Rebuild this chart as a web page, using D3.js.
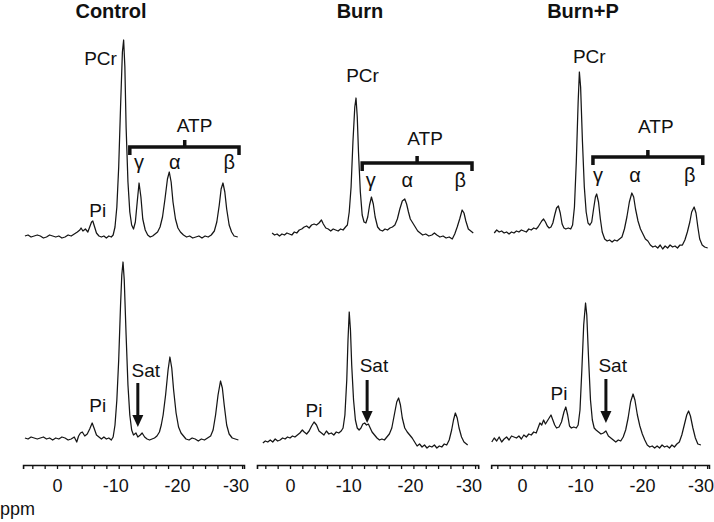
<!DOCTYPE html>
<html><head><meta charset="utf-8">
<script src="https://cdn.jsdelivr.net/npm/d3@7"></script>
<style>
html,body{margin:0;padding:0;background:#fff;}
svg text{font-family:"Liberation Sans",Arial,sans-serif;fill:#111;}
</style></head>
<body><svg id="c" width="714" height="522"></svg>
<script>
// ---------- data ----------
const panelTitles = ["Control", "Burn", "Burn+P"];
const tickValues = [4,2,0,-2,-4,-6,-8,-10,-12,-14,-16,-18,-20,-22,-24,-26,-28,-30];
const axisUnit = "ppm";

// spectra: [ppm, intensity (a.u.)]
const controlTop = [[5.2,1],[4.7,2],[4.2,0],[3.7,1],[3.2,2],[2.7,1],[2.2,-1],[1.7,0],[1.2,2],[0.7,1],[0.2,0],[-0.3,1],[-0.8,-1],[-1.3,0],[-1.8,2],[-2.3,1],[-2.8,3],[-3.3,5],[-3.7,7],[-3.9,9],[-4.2,6],[-4.6,8],[-5.0,5],[-5.3,10],[-5.6,15],[-5.8,16],[-6.1,10],[-6.4,4],[-6.8,1],[-7.2,0],[-7.6,1],[-8.0,-1],[-8.4,1],[-8.8,0],[-9.1,2],[-9.4,10],[-9.7,30],[-10.0,70],[-10.3,130],[-10.6,185],[-10.8,197],[-11.0,170],[-11.2,110],[-11.5,55],[-11.8,25],[-12.1,12],[-12.4,8],[-12.7,15],[-13.0,35],[-13.3,54],[-13.6,40],[-13.9,18],[-14.3,7],[-14.7,2],[-15.1,0],[-15.5,1],[-15.9,3],[-16.3,5],[-16.7,10],[-17.1,20],[-17.5,38],[-17.9,58],[-18.2,65],[-18.5,55],[-18.8,35],[-19.2,18],[-19.6,9],[-20.0,5],[-20.5,2],[-21.0,0],[-21.5,1],[-22.0,-1],[-22.5,0],[-23.0,1],[-23.5,-1],[-24.0,1],[-24.5,0],[-25.0,2],[-25.5,6],[-25.9,15],[-26.3,32],[-26.6,48],[-26.9,54],[-27.2,45],[-27.5,28],[-27.9,12],[-28.3,5],[-28.7,1],[-29.3,0]];
const controlBottom = [[5.2,2],[4.7,1],[4.2,3],[3.7,2],[3.2,1],[2.7,2],[2.2,3],[1.7,1],[1.2,2],[0.7,0],[0.2,2],[-0.3,1],[-0.8,3],[-1.3,2],[-1.8,0],[-2.3,1],[-2.8,3],[-3.2,-2],[-3.5,4],[-3.8,7],[-4.1,8],[-4.5,4],[-4.9,6],[-5.3,11],[-5.7,17],[-6.0,12],[-6.4,5],[-6.8,3],[-7.2,1],[-7.6,3],[-8.0,1],[-8.4,2],[-8.8,0],[-9.1,3],[-9.4,15],[-9.7,40],[-10.0,80],[-10.3,135],[-10.5,165],[-10.7,178],[-10.9,160],[-11.2,105],[-11.5,55],[-11.8,25],[-12.1,10],[-12.4,5],[-12.8,7],[-13.1,3],[-13.5,5],[-13.8,7],[-14.2,3],[-14.6,1],[-15.0,0],[-15.4,1],[-15.8,2],[-16.2,4],[-16.6,8],[-16.9,15],[-17.2,25],[-17.6,45],[-18.0,70],[-18.3,83],[-18.6,72],[-18.9,50],[-19.3,27],[-19.7,13],[-20.1,7],[-20.5,4],[-20.9,1],[-21.4,0],[-21.9,2],[-22.4,1],[-22.9,-1],[-23.4,1],[-23.9,0],[-24.4,2],[-24.9,4],[-25.3,10],[-25.7,25],[-26.1,45],[-26.5,59],[-26.8,52],[-27.1,35],[-27.5,15],[-27.9,6],[-28.4,2],[-28.9,1],[-29.4,0]];
const burnTop = [[2.9,4],[2.5,2],[2.1,3],[1.7,1],[1.3,3],[0.9,2],[0.5,4],[0.1,3],[-0.3,2],[-0.7,5],[-1.1,4],[-1.5,7],[-1.9,8],[-2.3,10],[-2.7,11],[-3.1,9],[-3.5,12],[-3.9,13],[-4.3,12],[-4.7,14],[-5.1,17],[-5.4,13],[-5.8,9],[-6.2,8],[-6.6,6],[-7.0,8],[-7.4,7],[-7.8,6],[-8.2,8],[-8.6,7],[-9.0,10],[-9.3,12],[-9.6,25],[-9.9,50],[-10.2,95],[-10.5,130],[-10.7,139],[-10.9,120],[-11.1,85],[-11.4,45],[-11.7,22],[-12.0,15],[-12.3,14],[-12.6,20],[-12.9,32],[-13.2,40],[-13.5,33],[-13.8,20],[-14.2,10],[-14.6,7],[-15.0,6],[-15.4,8],[-15.8,7],[-16.2,9],[-16.6,10],[-17.0,12],[-17.4,18],[-17.8,28],[-18.2,36],[-18.6,38],[-18.9,33],[-19.2,25],[-19.5,18],[-19.9,14],[-20.3,10],[-20.7,6],[-21.1,4],[-21.5,2],[-22.0,3],[-22.5,1],[-23.0,2],[-23.4,4],[-23.8,2],[-24.3,0],[-24.8,1],[-25.3,-1],[-25.8,0],[-26.3,-2],[-26.7,3],[-27.1,10],[-27.5,18],[-27.9,27],[-28.2,24],[-28.5,16],[-28.9,8],[-29.3,6],[-29.7,4]];
const burnBottom = [[4.4,-3],[4.0,-1],[3.6,-2],[3.2,0],[2.8,-2],[2.4,1],[2.0,-1],[1.6,0],[1.2,2],[0.8,1],[0.4,3],[0.0,2],[-0.4,4],[-0.8,3],[-1.2,5],[-1.6,7],[-2.0,10],[-2.3,8],[-2.7,6],[-3.1,9],[-3.5,14],[-3.9,18],[-4.3,15],[-4.7,9],[-5.1,7],[-5.5,5],[-5.9,9],[-6.3,6],[-6.7,7],[-7.1,5],[-7.5,8],[-7.9,7],[-8.3,9],[-8.6,12],[-8.9,25],[-9.2,60],[-9.4,100],[-9.6,128],[-9.8,110],[-10.0,75],[-10.3,40],[-10.6,20],[-10.9,12],[-11.2,10],[-11.5,12],[-11.8,16],[-12.1,17],[-12.4,15],[-12.7,16],[-13.0,12],[-13.3,8],[-13.7,5],[-14.1,2],[-14.5,0],[-14.9,1],[-15.3,0],[-15.7,3],[-16.1,6],[-16.5,12],[-16.9,25],[-17.3,38],[-17.6,42],[-17.9,35],[-18.2,22],[-18.6,12],[-19.0,8],[-19.4,5],[-19.8,2],[-20.2,-2],[-20.6,-6],[-21.0,-4],[-21.4,-7],[-21.8,-5],[-22.2,-8],[-22.6,-6],[-23.0,-7],[-23.4,-5],[-23.8,-8],[-24.2,-6],[-24.6,-7],[-25.0,-4],[-25.4,-5],[-25.8,0],[-26.2,10],[-26.5,20],[-26.8,27],[-27.1,22],[-27.4,12],[-27.8,3],[-28.2,-2],[-28.6,-4],[-28.8,-5]];
const burnPTop = [[4.5,4],[4.1,7],[3.7,5],[3.3,6],[2.9,4],[2.5,5],[2.1,3],[1.7,5],[1.3,4],[0.9,6],[0.5,5],[0.1,7],[-0.3,6],[-0.7,5],[-1.1,8],[-1.5,7],[-1.9,9],[-2.3,8],[-2.6,10],[-2.9,13],[-3.2,16],[-3.5,18],[-3.8,15],[-4.1,11],[-4.4,9],[-4.7,10],[-5.0,14],[-5.3,22],[-5.6,29],[-5.9,31],[-6.2,24],[-6.5,13],[-6.8,9],[-7.1,8],[-7.5,9],[-7.9,8],[-8.2,12],[-8.5,30],[-8.8,75],[-9.1,135],[-9.3,165],[-9.5,150],[-9.8,95],[-10.1,50],[-10.4,25],[-10.7,14],[-11.0,12],[-11.3,15],[-11.6,28],[-11.9,40],[-12.1,43],[-12.4,35],[-12.7,18],[-13.0,5],[-13.4,-2],[-13.8,-4],[-14.2,-3],[-14.6,-5],[-15.0,-3],[-15.4,-4],[-15.8,-2],[-16.2,0],[-16.6,8],[-17.0,20],[-17.4,35],[-17.8,44],[-18.1,40],[-18.4,28],[-18.8,16],[-19.2,8],[-19.6,3],[-20.0,-2],[-20.4,-4],[-20.8,-8],[-21.2,-10],[-21.6,-9],[-22.0,-11],[-22.4,-8],[-22.8,-12],[-23.2,-9],[-23.6,-11],[-24.0,-8],[-24.4,-10],[-24.8,-9],[-25.2,-11],[-25.6,-8],[-26.0,-8],[-26.4,-3],[-26.8,5],[-27.2,15],[-27.5,25],[-27.9,30],[-28.2,24],[-28.5,10],[-28.8,-2],[-29.2,-8],[-29.6,-10],[-30.1,-11]];
const burnPBottom = [[4.9,-2],[4.5,2],[4.1,-1],[3.7,3],[3.3,-2],[2.9,1],[2.5,3],[2.1,0],[1.7,4],[1.3,3],[0.9,2],[0.5,4],[0.1,1],[-0.3,5],[-0.7,3],[-1.1,6],[-1.5,5],[-1.9,8],[-2.3,7],[-2.6,12],[-2.9,17],[-3.2,15],[-3.5,20],[-3.8,16],[-4.1,19],[-4.4,22],[-4.7,25],[-5.0,20],[-5.3,15],[-5.6,12],[-6.0,13],[-6.4,18],[-6.8,28],[-7.1,33],[-7.4,25],[-7.7,14],[-8.0,12],[-8.4,13],[-8.8,12],[-9.1,15],[-9.4,30],[-9.7,70],[-10.0,115],[-10.3,137],[-10.5,125],[-10.8,80],[-11.1,40],[-11.4,20],[-11.7,12],[-12.0,10],[-12.4,8],[-12.8,6],[-13.2,7],[-13.6,9],[-14.0,4],[-14.4,2],[-14.8,0],[-15.2,-2],[-15.6,0],[-16.0,-1],[-16.4,3],[-16.8,10],[-17.2,22],[-17.6,38],[-18.0,46],[-18.3,40],[-18.7,25],[-19.1,14],[-19.5,6],[-19.9,0],[-20.3,-5],[-20.7,-7],[-21.1,-6],[-21.5,-8],[-21.9,-6],[-22.3,-8],[-22.7,-5],[-23.1,-7],[-23.5,-6],[-23.9,-8],[-24.3,-5],[-24.7,-7],[-25.1,-4],[-25.5,-2],[-25.9,5],[-26.3,15],[-26.7,25],[-27.0,29],[-27.3,24],[-27.7,12],[-28.1,2],[-28.5,-4],[-29.0,-5]];

// axis extents (ppm) per panel
const axisStart = [5.5, 5.35, 5.0];
const axisEnd = [-30.3, -30.5, -30.3];

// annotations (ppm, intensity)
const pcrLabel = [[-7.05,172],[-11.75,155],[-10.9,174]];
const atpLabel = [[-22.3,105],[-21.9,92],[-21.7,104]];
const braceLeft = [-11.8,-11.7,-11.5];
const braceRight = [-29.5,-29.5,-29.3];
const braceMid = [-20.7,-20.6,-20.4];
const braceLevel = [90,74,80];
const greekLetters = ["γ","α","β"];
const greekPpm = [[-13.3,-19.1,-27.9],[-13.1,-19.0,-27.6],[-12.3,-18.3,-27.2]];
const greekLevel = [68,50,55];
const piTopLabel = [[-6.6,20],null,null];
const piBottomLabel = [[-6.6,28],[-3.9,23],[-6.0,40]];
const satLabel = [[-14.4,63],[-13.6,68],[-14.7,68]];
const satArrow = [[-13.1,57,13],[-12.5,60,17],[-13.6,61,17]];

// ---------- drawing ----------
const svg = d3.select("#c");
const spectraTop = [controlTop, burnTop, burnPTop];
const spectraBottom = [controlBottom, burnBottom, burnPBottom];
const zeroPx = [57, 290, 522];
const pxPerPpm = 6.17;
const yTop = d3.scaleLinear().domain([0,200]).range([237,37]);
const yBot = d3.scaleLinear().domain([0,200]).range([440,240]);
const axisY = 465;
const titleX = [111, 360, 583];
const labelShift = {"0":0, "-10":-3.5, "-20":-3.5, "-30":-6.5};

const serif = '"Liberation Serif","Times New Roman",serif';

panelTitles.forEach((title, i) => {
  const s = axisStart[i], e = axisEnd[i];
  const x = d3.scaleLinear().domain([s, e]).range([zeroPx[i] - s*pxPerPpm, zeroPx[i] - e*pxPerPpm]);
  const g = svg.append("g");

  g.append("text").attr("x", titleX[i]).attr("y", 18).attr("text-anchor","middle")
    .attr("font-size", 20).attr("font-weight","bold").text(title);

  const line = (ys) => d3.line().x(d => x(d[0])).y(d => ys(d[1]));
  g.append("path").datum(spectraTop[i]).attr("d", line(yTop))
    .attr("fill","none").attr("stroke","#161616").attr("stroke-width",1.25).attr("stroke-linejoin","round");
  g.append("path").datum(spectraBottom[i]).attr("d", line(yBot))
    .attr("fill","none").attr("stroke","#161616").attr("stroke-width",1.25).attr("stroke-linejoin","round");

  // axis
  const ax = d3.axisBottom(x).tickValues(tickValues.filter(t => t <= s && t >= e))
    .tickSize(4).tickPadding(10).tickFormat(d => d % 10 === 0 ? String(d) : "");
  const axg = g.append("g").attr("transform", `translate(0,${axisY})`).call(ax);
  axg.select(".domain").attr("stroke","#111").attr("stroke-width",1.6);
  axg.selectAll(".tick line").attr("stroke","#111").attr("stroke-width",1.3);
  axg.selectAll(".tick text").attr("font-size",18).attr("fill","#111")
    .attr("font-family",'"Liberation Sans",Arial,sans-serif')
    .attr("dx", d => labelShift[String(d)] || 0);

  // labels top
  g.append("text").attr("x", x(pcrLabel[i][0])).attr("y", yTop(pcrLabel[i][1]))
    .attr("text-anchor","middle").attr("font-size",19).text("PCr");
  g.append("text").attr("x", x(atpLabel[i][0])).attr("y", yTop(atpLabel[i][1]))
    .attr("text-anchor","middle").attr("font-size",19).text("ATP");
  const bl = x(braceLeft[i]), br = x(braceRight[i]), bm = x(braceMid[i]), by = yTop(braceLevel[i]);
  g.append("path").attr("d", `M${bl},${by+8}L${bl},${by}L${br},${by}L${br},${by+8}M${bm},${by}L${bm},${by-7}`)
    .attr("fill","none").attr("stroke","#111").attr("stroke-width",3.5);
  greekLetters.forEach((gl, j) => {
    g.append("text").attr("x", x(greekPpm[i][j])).attr("y", yTop(greekLevel[i]))
      .attr("text-anchor","middle").attr("font-size",20).attr("font-family",serif).text(gl);
  });
  if (piTopLabel[i]) {
    g.append("text").attr("x", x(piTopLabel[i][0])).attr("y", yTop(piTopLabel[i][1]))
      .attr("text-anchor","middle").attr("font-size",19).text("Pi");
  }
  // labels bottom
  g.append("text").attr("x", x(piBottomLabel[i][0])).attr("y", yBot(piBottomLabel[i][1]))
    .attr("text-anchor","middle").attr("font-size",19).text("Pi");
  g.append("text").attr("x", x(satLabel[i][0])).attr("y", yBot(satLabel[i][1]))
    .attr("text-anchor","middle").attr("font-size",19).text("Sat");
  const axp = x(satArrow[i][0]), a0 = yBot(satArrow[i][1]), a1 = yBot(satArrow[i][2]);
  g.append("line").attr("x1",axp).attr("x2",axp).attr("y1",a0).attr("y2",a1-8)
    .attr("stroke","#111").attr("stroke-width",3);
  g.append("path").attr("d", `M${axp-5.5},${a1-12}L${axp+5.5},${a1-12}L${axp},${a1}Z`).attr("fill","#111");
});

svg.append("text").attr("x", 0).attr("y", 515).attr("font-size",18).text(axisUnit);
</script></body></html>
